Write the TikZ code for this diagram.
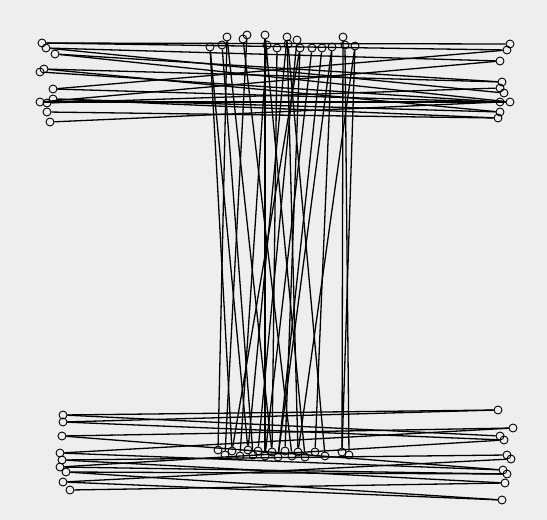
\documentclass[tikz,border=0pt]{standalone}
\usetikzlibrary{positioning}
\definecolor{bgc}{RGB}{238,238,238}

\begin{document}
\begin{tikzpicture}[x=1pt,y=-1pt,line width=1.3pt,
every node/.style={circle,draw,line width=.9pt,inner sep=0pt,minimum size=8pt}]
\useasboundingbox[fill=bgc] (0,0) rectangle (547,520);
% top left
\node (L1) at (42,43) {};
\node (L2) at (46,48) {};
\node (L3) at (55,54) {};
\node (L4) at (40,72) {};
\node (L5) at (44,69) {};
\node (L6) at (53,89) {};
\node (L7) at (40,102) {};
\node (L8) at (47,103) {};
\node (L9) at (53,99) {};
\node (L10) at (47,112) {};
\node (L11) at (50,122) {};
% top right
\node (R1) at (510,44) {};
\node (R2) at (507,50) {};
\node (R3) at (500,61) {};
\node (R4) at (502,82) {};
\node (R5) at (500,88) {};
\node (R6) at (504,93) {};
\node (R7) at (500,102) {};
\node (R8) at (510,102) {};
\node (R9) at (500,112) {};
\node (R10) at (498,118) {};
% top middle
\node (T1) at (210,47) {};
\node (T2) at (222,45) {};
\node (T3) at (227,37) {};
\node (T4) at (243,39) {};
\node (T5) at (247,35) {};
\node (T6) at (265,35) {};
\node (T7) at (267,45) {};
\node (T8) at (277,48) {};
\node (T9) at (287,37) {};
\node (T10) at (288,44) {};
\node (T11) at (297,40) {};
\node (T12) at (300,48) {};
\node (T13) at (312,48) {};
\node (T14) at (322,48) {};
\node (T15) at (332,47) {};
\node (T16) at (343,37) {};
\node (T17) at (345,45) {};
\node (T18) at (355,46) {};
% bottom middle
\node (B1) at (218,450) {};
\node (B2) at (225,455) {};
\node (B3) at (232,451) {};
\node (B4) at (240,456) {};
\node (B5) at (248,450) {};
\node (B6) at (253,455) {};
\node (B7) at (258,451) {};
\node (B8) at (265,456) {};
\node (B9) at (272,452) {};
\node (B10) at (278,457) {};
\node (B11) at (285,451) {};
\node (B12) at (292,456) {};
\node (B13) at (298,452) {};
\node (B14) at (305,457) {};
\node (B15) at (315,452) {};
\node (B16) at (325,456) {};
\node (B17) at (342,452) {};
\node (B18) at (349,455) {};
% bottom left
\node (P1) at (63,415) {};
\node (P2) at (63,422) {};
\node (P3) at (62,436) {};
\node (P4) at (60,453) {};
\node (P5) at (62,460) {};
\node (P6) at (60,467) {};
\node (P7) at (66,472) {};
\node (P8) at (63,482) {};
\node (P9) at (70,490) {};
% bottom right
\node (Q1) at (498,410) {};
\node (Q2) at (513,428) {};
\node (Q3) at (500,436) {};
\node (Q4) at (504,440) {};
\node (Q5) at (507,455) {};
\node (Q6) at (511,459) {};
\node (Q7) at (503,470) {};
\node (Q8) at (507,474) {};
\node (Q9) at (505,483) {};
\node (Q10) at (502,500) {};
\draw (L1)--(R1);
\draw (L2)--(R6);
\draw (L3)--(R8);
\draw (L4)--(R7);
\draw (L5)--(R4);
\draw (L6)--(R2);
\draw (L7)--(R3);
\draw (L8)--(R5);
\draw (L9)--(R9);
\draw (L10)--(R10);
\draw (L11)--(R7);
\draw (L1)--(R2);
\draw (L2)--(R3);
\draw (L3)--(R4);
\draw (L5)--(R9);
\draw (L7)--(R8);
\draw (L9)--(R10);
\draw (L6)--(R7);
\draw (T1)--(B3);
\draw (T2)--(B6);
\draw (T3)--(B1);
\draw (T4)--(B12);
\draw (T5)--(B2);
\draw (T6)--(B14);
\draw (T7)--(B4);
\draw (T8)--(B9);
\draw (T9)--(B5);
\draw (T10)--(B16);
\draw (T11)--(B7);
\draw (T12)--(B11);
\draw (T13)--(B8);
\draw (T14)--(B10);
\draw (T15)--(B15);
\draw (T16)--(B17);
\draw (T17)--(B18);
\draw (T18)--(B13);
\draw (T1)--(B5);
\draw (T3)--(B9);
\draw (T6)--(B8);
\draw (T9)--(B13);
\draw (T12)--(B3);
\draw (T15)--(B10);
\draw (T18)--(B17);
\draw (P1)--(Q3);
\draw (P2)--(Q1);
\draw (P3)--(Q7);
\draw (P4)--(Q2);
\draw (P5)--(Q5);
\draw (P6)--(Q4);
\draw (P7)--(Q8);
\draw (P8)--(Q6);
\draw (P9)--(Q9);
\draw (P8)--(Q10);
\draw (P1)--(Q1);
\draw (P2)--(Q4);
\draw (P3)--(Q2);
\draw (P4)--(Q7);
\draw (P5)--(Q9);
\draw (P6)--(Q8);
\draw (P7)--(Q10);
\end{tikzpicture}
\end{document}
